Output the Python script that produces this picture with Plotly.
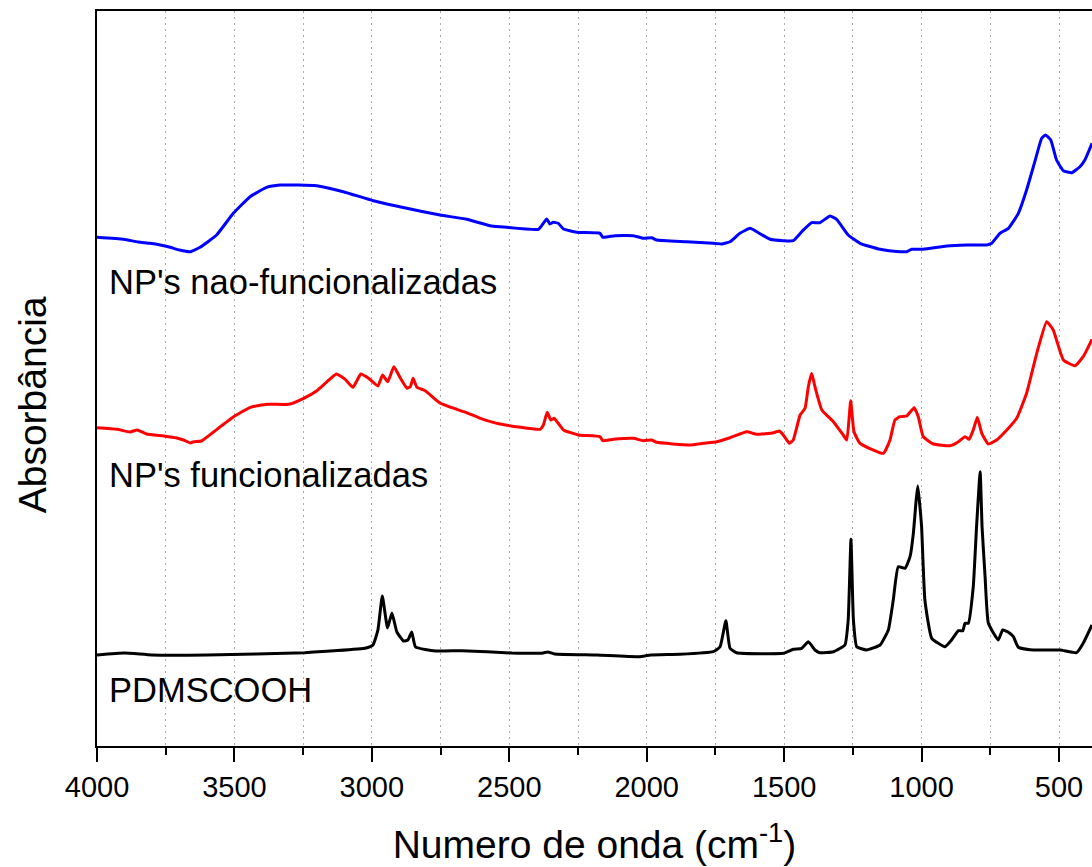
import plotly.graph_objects as go

# FTIR spectra (stacked, arbitrary absorbance units)
wn_pdms = [4000, 3900, 3800, 3600, 3244, 3021, 2996, 2978, 2962, 2943, 2927, 2909, 2885, 2869,
           2855, 2841, 2768, 2672, 2490, 2377, 2360, 2335, 2181, 2028, 1985, 1879, 1758, 1733,
           1712, 1697, 1673, 1503, 1467, 1436, 1412, 1388, 1370, 1321, 1279, 1267, 1257, 1248,
           1236, 1200, 1151, 1121, 1103, 1085, 1060, 1042, 1030, 1020, 1014, 1008, 1000, 988,
           963, 915, 891, 866, 850, 842, 830, 812, 800, 787, 780, 769, 757, 721, 705, 684, 666,
           648, 593, 496, 436, 412, 380]
abs_pdms = [0.91, 0.93, 0.91, 0.91, 0.933, 0.98, 1.01, 1.16, 1.50, 1.18, 1.33, 1.14, 1.05, 1.06,
            1.14, 0.99, 0.95, 0.953, 0.93, 0.93, 0.94, 0.92, 0.91, 0.893, 0.91, 0.917, 0.943, 0.993,
            1.253, 0.977, 0.933, 0.927, 0.967, 0.977, 1.043, 0.96, 0.933, 0.943, 1.01, 1.26, 2.067, 1.26,
            0.993, 0.96, 1.01, 1.16, 1.46, 1.793, 1.777, 1.893, 2.127, 2.45, 2.60, 2.45, 2.193, 1.46,
            1.077, 0.993, 1.06, 1.153, 1.153, 1.227, 1.227, 1.593, 2.193, 2.743, 2.193, 1.693, 1.227,
            1.06, 1.16, 1.137, 1.093, 0.987, 0.96, 0.96, 0.933, 1.027, 1.21]

wn_func = [4000, 3927, 3880, 3854, 3820, 3757, 3710, 3685, 3660, 3648, 3620, 3575, 3503, 3442,
           3381, 3303, 3248, 3200, 3163, 3129, 3097, 3069, 3040, 3012, 2978, 2961, 2942, 2920,
           2896, 2872, 2860, 2850, 2836, 2806, 2751, 2666, 2605, 2534, 2388, 2376, 2362, 2349,
           2337, 2322, 2303, 2249, 2170, 2160, 2121, 2049, 2012, 1982, 1964, 1843, 1794, 1745,
           1697, 1636, 1600, 1539, 1517, 1503, 1481, 1467, 1442, 1424, 1412, 1400, 1388, 1363,
           1321, 1285, 1272, 1258, 1246, 1224, 1139, 1115, 1097, 1079, 1054, 1027, 1012, 994,
           957, 897, 866, 842, 827, 812, 797, 781, 757, 727, 690, 654, 618, 581, 545, 521, 484,
           442, 412, 380]
abs_func = [3.183, 3.167, 3.14, 3.16, 3.12, 3.10, 3.08, 3.06, 3.03, 3.043, 3.05, 3.143, 3.293, 3.387,
            3.417, 3.417, 3.477, 3.553, 3.643, 3.72, 3.667, 3.587, 3.72, 3.677, 3.60, 3.71, 3.643, 3.793,
            3.677, 3.577, 3.593, 3.677, 3.587, 3.553, 3.427, 3.343, 3.277, 3.22, 3.167, 3.21, 3.337, 3.26,
            3.277, 3.227, 3.16, 3.11, 3.093, 3.053, 3.067, 3.077, 3.053, 3.06, 3.037, 3.01, 3.027, 3.043,
            3.083, 3.143, 3.117, 3.133, 3.15, 3.11, 3.027, 3.06, 3.31, 3.377, 3.593, 3.727, 3.593, 3.36,
            3.243, 3.11, 3.06, 3.453, 3.143, 3.027, 2.927, 3.06, 3.26, 3.293, 3.30, 3.383, 3.293, 3.093,
            3.02, 3.003, 3.043, 3.093, 3.067, 3.16, 3.287, 3.127, 3.02, 3.06, 3.16, 3.277, 3.527, 3.927,
            4.243, 4.16, 3.86, 3.803, 3.893, 4.067]

wn_nonfunc = [4000, 3903, 3850, 3807, 3770, 3734, 3700, 3662, 3625, 3565, 3504, 3443, 3383, 3334,
              3201, 3104, 2995, 2873, 2752, 2655, 2570, 2534, 2394, 2378, 2364, 2352, 2340, 2322,
              2303, 2255, 2170, 2160, 2115, 2049, 2012, 1982, 1964, 1855, 1758, 1727, 1697, 1661,
              1624, 1594, 1551, 1503, 1467, 1436, 1400, 1370, 1333, 1309, 1267, 1224, 1151, 1079,
              1054, 1036, 994, 909, 836, 763, 745, 715, 684, 648, 618, 588, 563, 549, 530, 509,
              484, 454, 424, 406, 380]
abs_nonfunc = [5.087, 5.067, 5.04, 5.027, 5.01, 4.987, 4.96, 4.943, 4.987, 5.11, 5.327, 5.493, 5.587, 5.61,
               5.603, 5.543, 5.453, 5.377, 5.31, 5.267, 5.203, 5.193, 5.167, 5.22, 5.27, 5.22, 5.237, 5.227,
               5.17, 5.137, 5.127, 5.087, 5.103, 5.103, 5.077, 5.083, 5.06, 5.043, 5.027, 5.02, 5.043, 5.127,
               5.177, 5.133, 5.067, 5.053, 5.053, 5.143, 5.233, 5.233, 5.30, 5.267, 5.11, 5.027, 4.967, 4.943,
               4.943, 4.967, 4.967, 5.00, 5.01, 5.01, 5.027, 5.127, 5.177, 5.327, 5.56, 5.843, 6.077, 6.11,
               6.06, 5.86, 5.753, 5.733, 5.793, 5.86, 6.027]

series = [
    ("PDMSCOOH", wn_pdms, abs_pdms, "#000000", 0.56),
    ("NP's funcionalizadas", wn_func, abs_func, "#ff0000", 2.71),
    ("NP's nao-funcionalizadas", wn_nonfunc, abs_nonfunc, "#0000ff", 4.64),
]

x_ticks = [4000, 3500, 3000, 2500, 2000, 1500, 1000, 500]
FONT = "Arial, 'Liberation Sans', sans-serif"
GRID = "#a8a8a8"
GRID_DASH = "2px,4px"

fig = go.Figure()
for name, wn, ab, color, label_y in series:
    fig.add_trace(go.Scatter(x=wn, y=ab, mode="lines", name=name,
                             line=dict(color=color, width=3, shape="spline", smoothing=0.4),
                             showlegend=False))
    fig.add_annotation(x=3962, y=label_y, text=name, showarrow=False,
                       xanchor="left", yanchor="middle",
                       font=dict(family=FONT, size=34.5, color="#000000"))

# vertical axis title
fig.add_annotation(xref="paper", yref="paper", x=-0.064, y=0.464,
                   text="Absorbância", textangle=-90, showarrow=False,
                   xanchor="center", yanchor="middle",
                   font=dict(family=FONT, size=39, color="#000000"))

fig.update_layout(
    width=1092, height=867,
    margin=dict(l=97, r=0, t=11, b=121),
    paper_bgcolor="white", plot_bgcolor="white",
    font=dict(family=FONT, color="#000000"),
)
fig.update_xaxes(
    range=[4000, 380], autorange=False,
    tickvals=x_ticks, ticktext=[str(v) for v in x_ticks],
    ticks="outside", ticklen=14, tickwidth=2, tickcolor="#000000",
    tickfont=dict(family=FONT, size=29, color="#000000"),
    showline=True, linewidth=2.2, linecolor="#000000", mirror=True,
    showgrid=True, gridcolor=GRID, gridwidth=1, griddash=GRID_DASH,
    zeroline=False,
    minor=dict(tick0=0, dtick=250, ticks="outside", ticklen=7, tickwidth=2,
               tickcolor="#000000", showgrid=True, gridcolor=GRID,
               gridwidth=1, griddash=GRID_DASH),
    title=dict(text="Numero de onda (cm<sup>-1</sup>)", standoff=29,
               font=dict(family=FONT, size=39, color="#000000")),
)
fig.update_yaxes(
    range=[0, 7.35], autorange=False,
    showticklabels=False, ticks="", showgrid=False, zeroline=False,
    showline=True, linewidth=2.2, linecolor="#000000", mirror=False,
)

fig.write_html("out.html")
